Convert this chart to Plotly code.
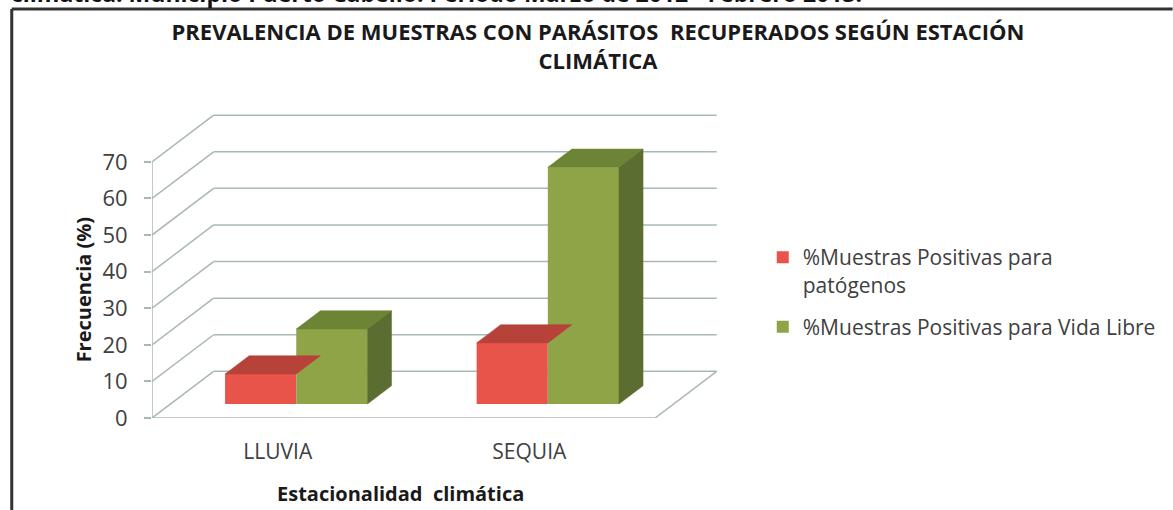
import plotly.graph_objects as go

# ---------------- data ----------------
categories = ["LLUVIA", "SEQUIA"]
patogenos = [8.2, 16.7]
vida_libre = [20.5, 64.7]
series_names = ["%Muestras Positivas para<br>patógenos", "%Muestras Positivas para Vida Libre"]
y_ticks = [0, 10, 20, 30, 40, 50, 60, 70]

# ---------------- style / geometry ----------------
W_PX, H_PX = 1173, 510
L, R, T, B = 152, 452, 107, 92
X_RANGE = [-0.5, 1.75]
Y_RANGE = [0, 85]
DX, DY = 0.245, 12.76          # oblique offset for full depth (x units, value units)
D0, D1 = 0.30, 0.69            # bar depth span
BW = 0.283                     # bar width (x units)

front_cols = ["#e8534a", "#8ea446"]
top_cols = ["#b6423a", "#6d8435"]
side_cols = ["#b6423a", "#5c6d31"]
grid_col = "#a9b7b7"
text_col = "#404040"

plot_w = W_PX - L - R
plot_h = H_PX - T - B


def xp(px):
    return (px - L) / plot_w


def yp(py):
    return (H_PX - B - py) / plot_h


def P(x, y, d):
    return x + d * DX, y + d * DY


fig = go.Figure()

# gridlines on side wall and back wall + floor (shapes below traces)
shapes = []
x_left, x_right = -0.5, len(categories) - 0.5
for k in y_ticks:
    a = P(x_left, k, 0)
    b = P(x_left, k, 1)
    c = P(x_right, k, 1)
    shapes.append(dict(type="line", x0=a[0], y0=a[1], x1=b[0], y1=b[1],
                       line=dict(color=grid_col, width=1.5), layer="below"))
    shapes.append(dict(type="line", x0=b[0], y0=b[1], x1=c[0], y1=c[1],
                       line=dict(color=grid_col, width=1.5), layer="below"))
f0 = P(x_left, 0, 0)
f1 = P(x_right, 0, 0)
f2 = P(x_right, 0, 1)
shapes.append(dict(type="line", x0=f0[0], y0=f0[1], x1=f1[0], y1=f1[1],
                   line=dict(color=grid_col, width=1.5), layer="below"))
shapes.append(dict(type="line", x0=f1[0], y0=f1[1], x1=f2[0], y1=f2[1],
                   line=dict(color=grid_col, width=1.5), layer="below"))
# vertical value axis line
shapes.append(dict(type="line", x0=x_left, y0=0, x1=x_left, y1=y_ticks[-1],
                   line=dict(color=grid_col, width=1.5), layer="below"))
# outer frame
shapes.append(dict(type="line", xref="paper", yref="paper",
                   x0=xp(11), y0=yp(9), x1=xp(W_PX + 5), y1=yp(9),
                   line=dict(color="#333333", width=3)))
shapes.append(dict(type="line", xref="paper", yref="paper",
                   x0=xp(11), y0=yp(9), x1=xp(11), y1=yp(H_PX + 5),
                   line=dict(color="#333333", width=3)))

series = [patogenos, vida_libre]
base = D0 * DY
for i, vals in enumerate(series):
    xs = [j + (i - 0.5) * BW + D0 * DX for j in range(len(categories))]
    fig.add_trace(go.Bar(
        x=xs, y=vals, base=base, width=BW, name=series_names[i],
        marker=dict(color=front_cols[i], line=dict(width=0)),
        legendgroup=str(i), hoverinfo="skip",
    ))

# top & side faces
for j in range(len(categories)):
    for i, vals in enumerate(series):
        v = vals[j]
        x0 = j + (i - 1) * BW
        x1 = x0 + BW
        pts = [P(x0, v, D0), P(x1, v, D0), P(x1, v, D1), P(x0, v, D1), P(x0, v, D0)]
        fig.add_trace(go.Scatter(
            x=[p[0] for p in pts], y=[p[1] for p in pts], fill="toself",
            fillcolor=top_cols[i], mode="lines", line=dict(color=top_cols[i], width=0.5),
            showlegend=False, hoverinfo="skip", legendgroup=str(i)))
        if i == len(series) - 1:
            pts = [P(x1, 0, D0), P(x1, 0, D1), P(x1, v, D1), P(x1, v, D0), P(x1, 0, D0)]
            fig.add_trace(go.Scatter(
                x=[p[0] for p in pts], y=[p[1] for p in pts], fill="toself",
                fillcolor=side_cols[i], mode="lines", line=dict(color=side_cols[i], width=0.5),
                showlegend=False, hoverinfo="skip", legendgroup=str(i)))

annotations = [
    dict(text="Estacionalidad  climática", x=xp(402), y=yp(493), xref="paper", yref="paper",
         showarrow=False, font=dict(family="Open Sans", size=20, color="#1a1a1a", weight="bold"),
         xanchor="center", yanchor="middle"),
    dict(text="Frecuencia (%)", x=xp(83), y=yp(289), xref="paper", yref="paper",
         showarrow=False, textangle=-90,
         font=dict(family="Open Sans", size=20, color="#1a1a1a", weight="bold"),
         xanchor="center", yanchor="middle"),
    dict(text="climática. Municipio Puerto Cabello. Período Marzo de 2012 - Febrero 2013.",
         x=xp(8), y=yp(-7), xref="paper", yref="paper", showarrow=False,
         font=dict(family="Open Sans", size=23, color="#111111", weight="bold"),
         xanchor="left", yanchor="middle"),
]

fig.update_layout(
    width=W_PX, height=H_PX,
    margin=dict(l=L, r=R, t=T, b=B),
    paper_bgcolor="white", plot_bgcolor="white",
    barmode="overlay",
    title=dict(text="PREVALENCIA DE MUESTRAS CON PARÁSITOS  RECUPERADOS SEGÚN ESTACIÓN<br>CLIMÁTICA",
               x=598 / W_PX, xref="container", xanchor="center",
               y=1 - 40 / H_PX, yref="container", yanchor="top",
               font=dict(family="Open Sans", size=22, color="#1a1a1a", weight="bold")),
    xaxis=dict(range=X_RANGE, tickvals=list(range(len(categories))), ticktext=categories,
               showgrid=False, zeroline=False, showline=False, ticks="",
               ticklabelstandoff=19,
               tickfont=dict(family="Open Sans", size=21, color=text_col), fixedrange=True),
    yaxis=dict(range=Y_RANGE, tickvals=y_ticks, showgrid=False, zeroline=False, showline=False,
               ticks="outside", ticklen=7, tickcolor=grid_col, tickwidth=1.5,
               ticklabelstandoff=12,
               tickfont=dict(family="Open Sans", size=22, color=text_col), fixedrange=True),
    legend=dict(x=xp(766), y=yp(237), xanchor="left", yanchor="top",
                font=dict(family="Open Sans", size=21, color=text_col),
                valign="top", traceorder="grouped", tracegroupgap=12,
                bgcolor="rgba(0,0,0,0)"),
    shapes=shapes,
    annotations=annotations,
    showlegend=True,
)

fig.write_html("out.html", config={"displayModeBar": False},
               post_script="document.body.style.margin='0';document.body.style.overflow='hidden';")
